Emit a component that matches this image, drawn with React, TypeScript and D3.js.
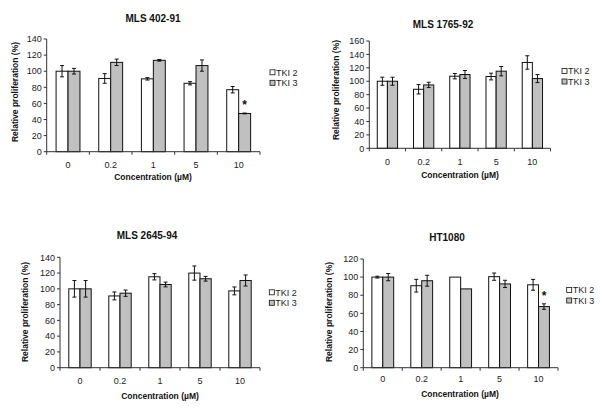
import React from 'react';
import * as d3 from 'd3';

const concentrations = ['0', '0.2', '1', '5', '10'];
const seriesNames = ['TKI 2', 'TKI 3'];
const titles = ['MLS 402-91', 'MLS 1765-92', 'MLS 2645-94', 'HT1080'];
const yMaxes = [140, 160, 140, 120];

// MLS 402-91
const mls40291Tki2 = [100, 91, 90.5, 85, 77];
const mls40291Tki2Err = [7, 6, 1.5, 2, 4];
const mls40291Tki3 = [100, 111, 113.5, 107, 47.5];
const mls40291Tki3Err = [3.5, 4, 1, 7, 0.5];

// MLS 1765-92
const mls176592Tki2 = [100, 88, 107.5, 107, 128];
const mls176592Tki2Err = [6, 7, 4, 5, 10];
const mls176592Tki3 = [100, 94.5, 110, 115, 104];
const mls176592Tki3Err = [6, 4, 6, 7, 6];

// MLS 2645-94
const mls264594Tki2 = [100, 91, 115.3, 120, 97.4];
const mls264594Tki2Err = [10.5, 5, 4, 9, 5];
const mls264594Tki3 = [100, 94.5, 105.5, 112.8, 110.6];
const mls264594Tki3Err = [10.5, 4, 3, 3, 7];

// HT1080
const ht1080Tki2 = [100, 90.5, 100, 100.5, 91.5];
const ht1080Tki2Err = [1, 7, 0, 4, 6];
const ht1080Tki3 = [100, 96, 87, 92.5, 67.5];
const ht1080Tki3Err = [4, 6, 0, 4, 3];

// concentrations where TKI 3 is marked significant
const significantTki3 = [['10'], [], [], ['10']];

const values = [
  [mls40291Tki2, mls40291Tki3],
  [mls176592Tki2, mls176592Tki3],
  [mls264594Tki2, mls264594Tki3],
  [ht1080Tki2, ht1080Tki3],
];
const errors = [
  [mls40291Tki2Err, mls40291Tki3Err],
  [mls176592Tki2Err, mls176592Tki3Err],
  [mls264594Tki2Err, mls264594Tki3Err],
  [ht1080Tki2Err, ht1080Tki3Err],
];

// positions of each panel (plot area, title, labels, legend)
const layouts = [
  { left: 46.7, right: 260, top: 39, bottom: 151.7, titleX: 153, titleY: 22, yLabX: 15, yLabY: 92, tickDy: 16.5, xTitleY: 180, xTitleX: 153, legX: 270, legY: 72.3 },
  { left: 369.3, right: 550.5, top: 41, bottom: 148.3, titleX: 443, titleY: 28, yLabX: 336, yLabY: 90, tickDy: 17, xTitleY: 178, xTitleX: 460, legX: 562, legY: 71 },
  { left: 60, right: 260, top: 257.3, bottom: 367.7, titleX: 147, titleY: 239, yLabX: 25, yLabY: 312, tickDy: 16, xTitleY: 399, xTitleX: 160, legX: 269.3, legY: 292.3 },
  { left: 363.3, right: 558, top: 259, bottom: 367.7, titleX: 447, titleY: 241, yLabX: 329, yLabY: 312, tickDy: 14, xTitleY: 397, xTitleX: 460, legX: 566.7, legY: 290 },
];

const fills = ['#ffffff', '#c0c0c0'];
const font = 'Liberation Sans, Arial, sans-serif';

const Panel: React.FC<{ idx: number }> = ({ idx }) => {
  const L = layouts[idx];
  const yMax = yMaxes[idx];
  const x0 = d3.scaleBand<string>().domain(concentrations).range([L.left, L.right]).padding(0);
  const bw = x0.bandwidth();
  const x1 = d3.scaleBand<string>().domain(seriesNames).range([bw * 0.22, bw * 0.78]).padding(0);
  const y = d3.scaleLinear().domain([0, yMax]).range([L.bottom, L.top]);
  const yTicks = d3.range(0, yMax + 1, 20);
  const boundaries = concentrations.map(c => x0(c) as number).concat([L.right]);

  return (
    <g fontFamily={font}>
      <text x={L.titleX} y={L.titleY} textAnchor="middle" fontSize={10} fontWeight="bold" fill="#111">
        {titles[idx]}
      </text>

      {/* bars */}
      {seriesNames.map((s, si) =>
        concentrations.map((c, ci) => {
          const v = values[idx][si][ci];
          const bx = (x0(c) as number) + (x1(s) as number);
          return (
            <rect key={s + c} x={bx} y={y(v)} width={x1.bandwidth()} height={L.bottom - y(v)}
              fill={fills[si]} stroke="#111" strokeWidth={1} />
          );
        })
      )}

      {/* error bars */}
      {seriesNames.map((s, si) =>
        concentrations.map((c, ci) => {
          const v = values[idx][si][ci];
          const e = errors[idx][si][ci];
          if (!e) return null;
          const cx = (x0(c) as number) + (x1(s) as number) + x1.bandwidth() / 2;
          return (
            <g key={'e' + s + c} stroke="#111" strokeWidth={1}>
              <line x1={cx} x2={cx} y1={y(v - e)} y2={y(v + e)} />
              <line x1={cx - 2} x2={cx + 2} y1={y(v - e)} y2={y(v - e)} />
              <line x1={cx - 2} x2={cx + 2} y1={y(v + e)} y2={y(v + e)} />
            </g>
          );
        })
      )}

      {/* significance */}
      {significantTki3[idx].map(c => {
        const ci = concentrations.indexOf(c);
        const v = values[idx][1][ci] + errors[idx][1][ci];
        const cx = (x0(c) as number) + (x1('TKI 3') as number) + x1.bandwidth() / 2;
        return (
          <text key={'s' + c} x={cx} y={y(v) - 11 + 7} textAnchor="middle" fontSize={12} fontWeight="bold" fill="#111">*</text>
        );
      })}

      {/* y axis */}
      <line x1={L.left} x2={L.left} y1={L.top} y2={L.bottom} stroke="#333" />
      {yTicks.map(t => (
        <g key={'y' + t}>
          <line x1={L.left - 3} x2={L.left} y1={y(t)} y2={y(t)} stroke="#333" />
          <text x={L.left - 5} y={y(t) + 3.2} textAnchor="end" fontSize={9} fill="#222">{t}</text>
        </g>
      ))}

      {/* x axis */}
      <line x1={L.left} x2={L.right} y1={L.bottom} y2={L.bottom} stroke="#333" />
      {boundaries.map((b, i) => (
        <line key={'xt' + i} x1={b} x2={b} y1={L.bottom} y2={L.bottom + 3} stroke="#333" />
      ))}
      {concentrations.map(c => (
        <text key={'xl' + c} x={(x0(c) as number) + bw / 2} y={L.bottom + L.tickDy} textAnchor="middle" fontSize={9} fill="#222">{c}</text>
      ))}

      <text x={L.xTitleX} y={L.xTitleY} textAnchor="middle" fontSize={8.5} fontWeight="bold" fill="#111">
        Concentration (µM)
      </text>
      <text transform={`translate(${L.yLabX},${L.yLabY}) rotate(-90)`} textAnchor="middle" dy="0.35em"
        fontSize={8.5} fontWeight="bold" fill="#111">
        Relative proliferation (%)
      </text>

      {/* legend */}
      {seriesNames.map((s, si) => (
        <g key={'lg' + s}>
          <rect x={L.legX} y={L.legY + si * 10.5 - 2.5} width={5} height={5} fill={fills[si]} stroke="#111" strokeWidth={0.8} />
          <text x={L.legX + 6} y={L.legY + si * 10.5 + 3.2} fontSize={9} fill="#222">{s}</text>
        </g>
      ))}
    </g>
  );
};

export default function App() {
  return (
    <svg width={600} height={411} style={{ position: 'absolute', left: 0, top: 0, background: '#fff' }}>
      <rect width={600} height={411} fill="#fff" />
      {layouts.map((_, i) => <Panel key={i} idx={i} />)}
    </svg>
  );
}
